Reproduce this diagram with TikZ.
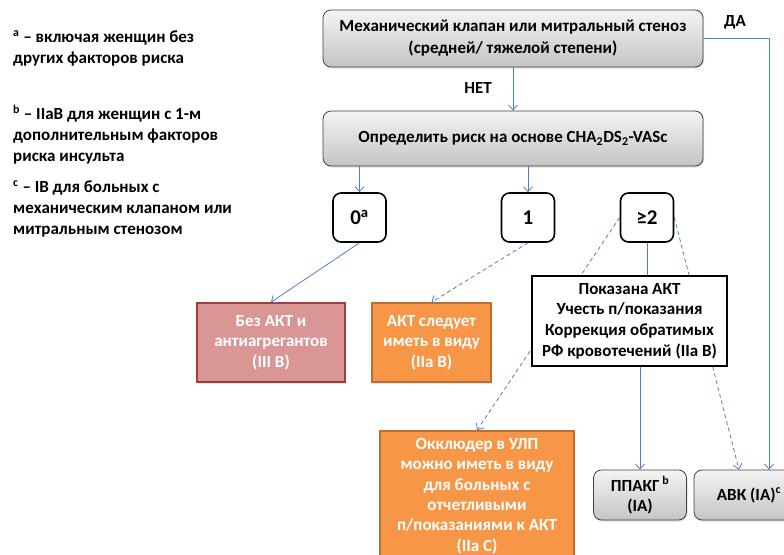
\documentclass[tikz,border=0pt]{standalone}
\usepackage{fontspec}
\setmainfont{Carlito}
\usepackage{xcolor}
\usetikzlibrary{arrows.meta, shadows, calc, backgrounds}
\tikzset{
    decision/.style={rectangle, rounded corners=8pt, draw=boxborder, line width=0.8pt, top color=graytop, bottom color=graybottom, text centered, align=center, font=\bfseries\fontsize{17}{22}\selectfont, drop shadow={opacity=0.25, shadow xshift=1pt, shadow yshift=-1.5pt}},
    score/.style={rectangle, rounded corners=8pt, draw=black, line width=1.6pt, fill=white, minimum width=53pt, minimum height=49pt, font=\bfseries\fontsize{21}{24}\selectfont},
    advice/.style={rectangle, line width=1.6pt, text centered, align=center, text=white, font=\bfseries\fontsize{17}{20.5}\selectfont, drop shadow={opacity=0.2, shadow xshift=1pt, shadow yshift=-1.5pt}},
    therapy/.style={rectangle, draw=black, line width=1.6pt, fill=white, text centered, align=center, font=\bfseries\fontsize{17}{20.7}\selectfont},
    note/.style={anchor=north west, inner sep=0pt, align=left, font=\bfseries\fontsize{17}{21}\selectfont},
    label/.style={font=\bfseries\fontsize{17}{20}\selectfont},
    arrow/.style={draw=arrowblue, line width=0.8pt, -{Straight Barb[length=5pt,width=9pt]}},
    maybe/.style={arrow, dash pattern=on 4pt off 3pt},
    link/.style={draw=arrowblue, line width=0.8pt}
}
\definecolor{graytop}{RGB}{244,244,244}
\definecolor{graybottom}{RGB}{196,196,196}
\definecolor{boxborder}{RGB}{64,64,64}
\definecolor{arrowblue}{RGB}{79,129,189}
\definecolor{pinkfill}{RGB}{217,150,148}
\definecolor{pinkborder}{RGB}{160,62,60}
\definecolor{orangefill}{RGB}{247,150,70}
\definecolor{orangeborder}{RGB}{190,110,50}

\begin{document}
\begin{tikzpicture}[x=1pt, y=-1pt]
    \useasboundingbox (0,0) rectangle (784,554);
    \clip (0,0) rectangle (784,554);

    % Footnotes
    \node (nota) [note] at (13,30) {\textsuperscript{a} – включая женщин без\\другиx факторов риска};
    \node (notb) [note] at (13,105) {\textsuperscript{b} – IIaB для женщин с 1-м\\дополнительным факторов\\риска инсульта};
    \node (notc) [note] at (13,180) {\textsuperscript{c} – IB для больных с\\механическим клапаном или\\митральным стенозом};

    % Nodes
    \node (valve) [decision, minimum width=380pt, minimum height=57pt] at (513,38.5) {Механический клапан или митральный стеноз\\(средней/ тяжелой степени)};
    \node (risk) [decision, minimum width=380pt, minimum height=55pt] at (513,138.5) {Определить риск на основе CHA\textsubscript{2}DS\textsubscript{2}-VASc};

    \node (zero) [score] at (359.5,217.5) {0\textsuperscript{a}};
    \node (one) [score] at (528,217.5) {1};
    \node (two) [score] at (647,217.5) {≥2};

    \node (noakt) [advice, draw=pinkborder, fill=pinkfill, minimum width=148pt, minimum height=79pt] at (271,342.5) {Без АКТ и\\антиагрегантов\\(III B)};
    \node (consider) [advice, draw=orangeborder, fill=orangefill, minimum width=119pt, minimum height=79pt] at (431.5,342.5) {АКТ следует\\иметь в виду\\(IIa B)};
    \node (occluder) [advice, draw=orangeborder, fill=orangefill, minimum width=194pt, minimum height=130pt, font=\bfseries\fontsize{17}{20.3}\selectfont] at (477,496) {Окклюдер в УЛП\\можно иметь в виду\\для больных с\\отчетливыми\\п/показаниями к АКТ\\(IIa C)};

    \node (ppakg) [decision, minimum width=93pt, minimum height=50pt, font=\bfseries\fontsize{17}{20}\selectfont] at (640,495) {ППАКГ\,\textsuperscript{b}\\(IA)};
    \node (avk) [decision, minimum width=110pt, minimum height=50pt] at (749,495) {АВК (IA)\textsuperscript{c}};

    \node (indicated) [therapy, minimum width=195pt, minimum height=90pt] at (629.5,321) {Показана АКТ\\Учесть п/показания\\Коррекция обратимых\\РФ кровотечений (IIa B)};

    % Labels
    \node (yes) [label] at (735,22) {ДА};
    \node (no) [label] at (478,88) {НЕТ};

    % Arrows
    \draw [arrow] (valve) -- (risk);
    \draw [arrow] (valve.east) -| ($(avk.north)+(20,0)$);
    \draw [arrow] (zero |- risk.south) -- (zero.north);
    \draw [arrow] (one |- risk.south) -- (one.north);
    \draw [arrow] (zero.south) -- (noakt.north);
    \draw [maybe] (one.south) -- (consider.north);
    \draw [link] (two.south) -- (two.south |- indicated.north);
    \draw [arrow] (indicated.south -| ppakg.north) -- (ppakg.north);
    \begin{scope}[on background layer]
        \draw [maybe] (two.west) -- (occluder.north);
        \draw [maybe] (two.east) -- ($(avk.north)+(-10,0)$);
    \end{scope}
\end{tikzpicture}
\end{document}
